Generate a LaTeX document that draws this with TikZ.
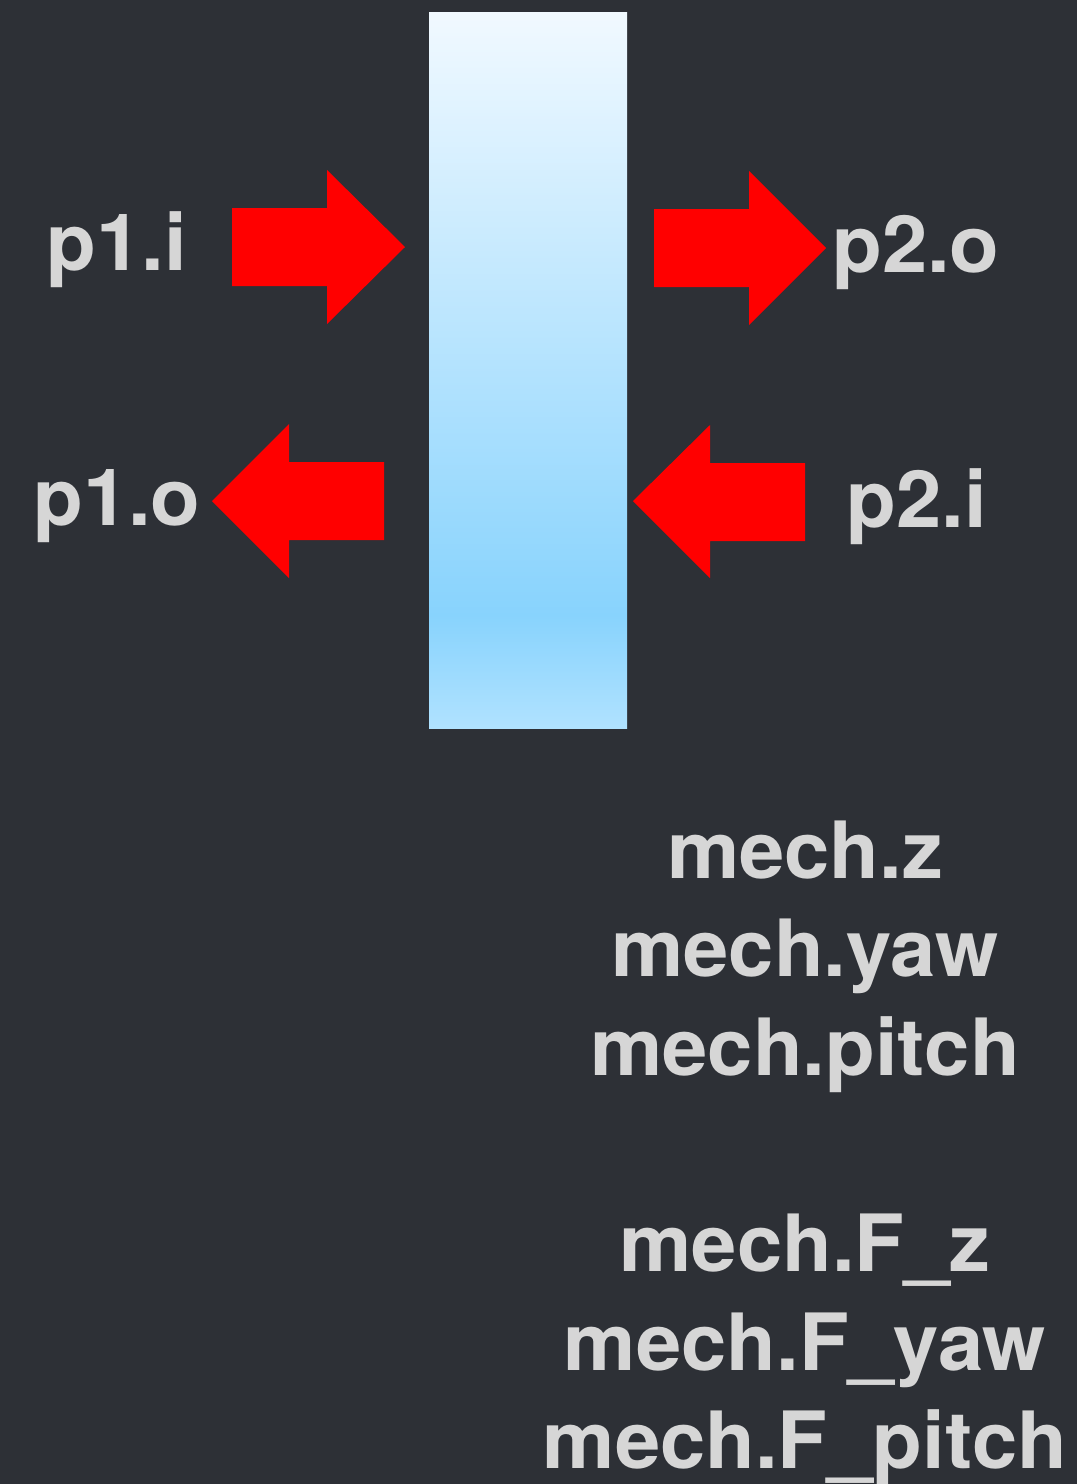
\documentclass[tikz,border=0pt]{standalone}
\usepackage{fontspec}
\setmainfont[FakeStretch=1.03]{TeX Gyre Heros}
\definecolor{bgdark}{RGB}{45,48,54}
\definecolor{labelgray}{RGB}{214,214,214}
\definecolor{arrowred}{RGB}{255,0,0}
\definecolor{bartop}{RGB}{241,249,255}
\definecolor{barmid}{RGB}{136,211,253}
\definecolor{barbot}{RGB}{176,226,255}
% vertical gradient of the central bar: path box spans 25bp..75bp
\pgfdeclareverticalshading{barshade}{100bp}{%
  color(0bp)=(barbot); color(25bp)=(barbot); color(32.9bp)=(barmid);
  color(75bp)=(bartop); color(100bp)=(bartop)}
\begin{document}
\begin{tikzpicture}[x=1pt,y=-1pt,
  lbl/.style={text=labelgray,font=\fontsize{79}{92}\selectfont\bfseries,anchor=base,inner sep=0pt},
  redarrow/.style={fill=arrowred,draw=none}]
  % background and page size
  \fill[bgdark] (0,0) rectangle (1077,1484);
  \useasboundingbox (0,0) rectangle (1077,1484);
  % central bar
  \shade[shading=barshade] (429,12) rectangle (627,728);
  % arrow into port 1 (pointing right)
  \fill[redarrow] (232,208) -- (327,208) -- (327,170) -- (405,247) -- (327,324) -- (327,286) -- (232,286) -- cycle;
  % arrow out of port 2 (pointing right)
  \fill[redarrow] (654,209) -- (749,209) -- (749,171) -- (826,248) -- (749,325) -- (749,287) -- (654,287) -- cycle;
  % arrow out of port 1 (pointing left)
  \fill[redarrow] (384,462) -- (289,462) -- (289,424) -- (212,501) -- (289,578) -- (289,540) -- (384,540) -- cycle;
  % arrow into port 2 (pointing left)
  \fill[redarrow] (805,463) -- (710,463) -- (710,425) -- (633,501) -- (710,578) -- (710,541) -- (805,541) -- cycle;
  % port labels
  \node[lbl] (p1i) at (117,270) {p1.i};
  \node[lbl] (p2o) at (916,272) {p2.o};
  \node[lbl] (p1o) at (117,525) {p1.o};
  \node[lbl] (p2i) at (917,527) {p2.i};
  % mechanical variables
  \node[lbl] (mz) at (805,878) {mech.z};
  \node[lbl] (myaw) at (805,976) {mech.yaw};
  \node[lbl] (mpitch) at (805,1075) {mech.pitch};
  \node[lbl] (mFz) at (805,1271) {mech.F\_z};
  \node[lbl] (mFyaw) at (805,1370) {mech.F\_yaw};
  \node[lbl] (mFpitch) at (805,1468) {mech.F\_pitch};
\end{tikzpicture}
\end{document}
